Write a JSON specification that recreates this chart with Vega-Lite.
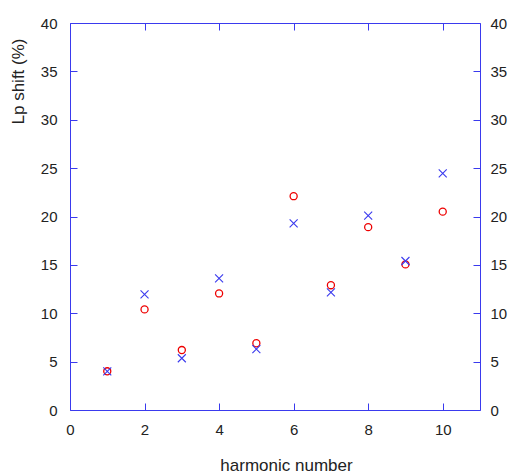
{
  "$schema": "https://vega.github.io/schema/vega-lite/v6.json",
  "width": 410,
  "height": 387,
  "autosize": {"type": "none"},
  "padding": {"left": 70, "top": 23, "right": 32, "bottom": 64},
  "background": "white",
  "config": {
    "view": {"stroke": null},
    "font": "Liberation Sans",
    "axis": {
      "grid": false,
      "labelFlush": false,
      "domainColor": "#3a3aee",
      "domainWidth": 1,
      "tickColor": "#3a3aee",
      "tickSize": -7,
      "labelFont": "Liberation Sans",
      "labelFontSize": 15,
      "labelColor": "#222222",
      "titleFont": "Liberation Sans",
      "titleFontSize": 17,
      "titleFontWeight": "normal",
      "titleColor": "#222222"
    }
  },
  "data": {
    "values": [
      {"n": 1, "series": "circle", "v": 4.0},
      {"n": 2, "series": "circle", "v": 10.4},
      {"n": 3, "series": "circle", "v": 6.2},
      {"n": 4, "series": "circle", "v": 12.05},
      {"n": 5, "series": "circle", "v": 6.9},
      {"n": 6, "series": "circle", "v": 22.1},
      {"n": 7, "series": "circle", "v": 12.9},
      {"n": 8, "series": "circle", "v": 18.9},
      {"n": 9, "series": "circle", "v": 15.05},
      {"n": 10, "series": "circle", "v": 20.5},
      {"n": 1, "series": "cross", "v": 4.0},
      {"n": 2, "series": "cross", "v": 11.95},
      {"n": 3, "series": "cross", "v": 5.35},
      {"n": 4, "series": "cross", "v": 13.6},
      {"n": 5, "series": "cross", "v": 6.3},
      {"n": 6, "series": "cross", "v": 19.3},
      {"n": 7, "series": "cross", "v": 12.15},
      {"n": 8, "series": "cross", "v": 20.1},
      {"n": 9, "series": "cross", "v": 15.4},
      {"n": 10, "series": "cross", "v": 24.45}
    ]
  },
  "layer": [
    {
      "transform": [{"filter": "datum.series === 'circle'"}],
      "mark": {"type": "point", "shape": "circle", "filled": false, "color": "#ee0000", "strokeWidth": 1.3, "size": 50, "opacity": 1},
      "encoding": {
        "x": {"field": "n", "type": "quantitative", "scale": {"domain": [0, 11], "nice": false, "zero": false},
              "axis": {"orient": "bottom", "values": [0, 2, 4, 6, 8, 10], "title": "harmonic number", "labelPadding": 19, "titleX": 216, "titleY": 60, "titleBaseline": "alphabetic"}},
        "y": {"field": "v", "type": "quantitative", "scale": {"domain": [0, 40], "nice": false},
              "axis": {"orient": "left", "values": [0, 5, 10, 15, 20, 25, 30, 35, 40], "title": "Lp shift (%)", "labelPadding": 20, "titleX": -52, "titleY": 58, "titleAngle": -90, "titleAlign": "center", "titleBaseline": "middle"}}
      }
    },
    {
      "transform": [{"filter": "datum.series === 'cross'"}],
      "mark": {"type": "point", "shape": "M-1,-1L1,1M-1,1L1,-1", "filled": false, "color": "#3a3aee", "strokeWidth": 1.1, "size": 64, "opacity": 1},
      "encoding": {
        "x": {"field": "n", "type": "quantitative", "scale": {"domain": [0, 11], "nice": false, "zero": false},
              "axis": {"orient": "top", "values": [0, 2, 4, 6, 8, 10], "labels": false, "title": null}},
        "y": {"field": "v", "type": "quantitative", "scale": {"domain": [0, 40], "nice": false},
              "axis": {"orient": "right", "values": [0, 5, 10, 15, 20, 25, 30, 35, 40], "title": null, "labelPadding": 17}}
      }
    }
  ],
  "resolve": {"axis": {"x": "independent", "y": "independent"}}
}
